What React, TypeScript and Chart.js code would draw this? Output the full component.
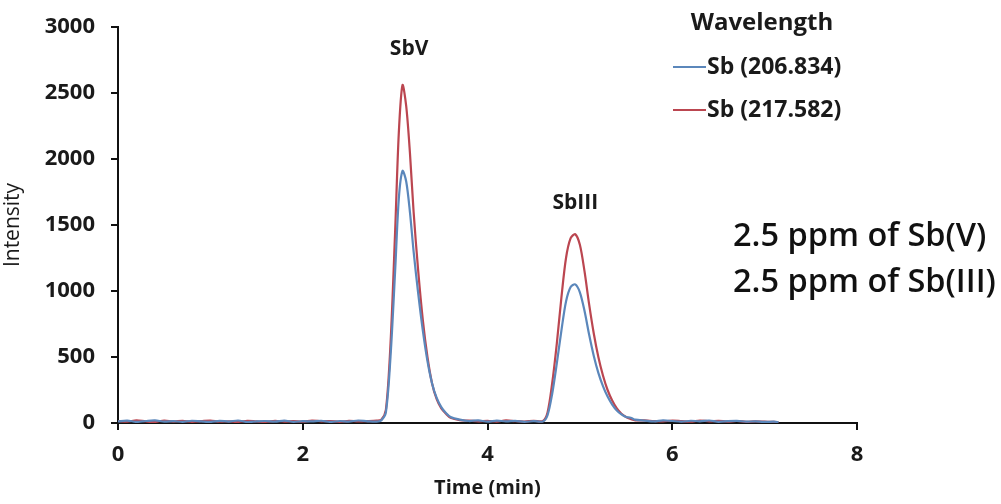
import React, { useEffect, useRef } from "react";
import { Chart, registerables } from "chart.js";

Chart.register(...registerables);

const times = [
  0, 0.1, 0.2, 0.3, 0.4, 0.5, 0.6, 0.7, 0.8, 0.9, 1.0, 1.1, 1.2, 1.3, 1.4, 1.5, 1.6, 1.7, 1.8, 1.9, 2.0, 2.1, 2.2, 2.3, 2.4, 2.5, 2.6, 2.7, 2.8,
  2.85, 2.9, 2.95, 3.0, 3.04, 3.08, 3.12, 3.16, 3.2, 3.25, 3.3, 3.35, 3.4, 3.45, 3.5, 3.55, 3.6,
  3.7, 3.8, 3.9, 4.0, 4.1, 4.2, 4.3, 4.4, 4.5,
  4.6, 4.65, 4.7, 4.75, 4.8, 4.85, 4.9, 4.95, 5.0, 5.05, 5.1, 5.15, 5.2, 5.25, 5.3, 5.35, 5.4, 5.45, 5.5, 5.55, 5.6,
  5.7, 5.8, 5.9, 6.0, 6.1, 6.2, 6.3, 6.4, 6.5, 6.6, 6.7, 6.8, 6.9, 7.0, 7.1, 7.15,
];

const sb206 = [
  12, 18, 8, 15, 20, 10, 14, 9, 17, 12, 8, 16, 11, 19, 7, 13, 15, 10, 18, 9, 14, 12, 17, 8, 15, 11, 19, 13, 10,
  20, 80, 500, 1150, 1700, 1910, 1830, 1600, 1300, 980, 700, 470, 300, 190, 120, 75, 45,
  25, 15, 20, 10, 18, 12, 16, 9, 14,
  12, 60, 220, 450, 700, 920, 1030, 1050, 990, 850, 670, 510, 380, 280, 200, 140, 95, 65, 45, 40, 25,
  18, 12, 20, 15, 10, 17, 13, 19, 9, 14, 16, 11, 12, 8, 10, 6,
];

const sb217 = [
  15, 10, 20, 12, 8, 18, 11, 16, 9, 14, 19, 10, 13, 8, 17, 12, 9, 16, 11, 14, 10, 18, 13, 15, 9, 16, 12, 14, 18,
  25, 100, 600, 1450, 2200, 2560, 2400, 2050, 1600, 1150, 780, 500, 300, 180, 110, 70, 40,
  22, 18, 12, 16, 10, 20, 14, 11, 17,
  15, 80, 300, 600, 950, 1250, 1400, 1430, 1350, 1150, 900, 680, 500, 360, 250, 170, 110, 70, 45, 30, 20,
  20, 15, 12, 18, 14, 10, 19, 13, 16, 11, 15, 9, 12, 10, 8, 5,
];

const seriesNames = ["Sb (206.834)", "Sb (217.582)"];
const legendTitle = "Wavelength";
const peakLabels = ["SbV", "SbIII"];
const peakLabelPos = [
  { x: 3.0, y: 2835 },
  { x: 4.95, y: 1670 },
];
const noteLines = ["2.5 ppm of Sb(V)", "2.5 ppm of Sb(III)"];

const BLUE = "#5b87bb";
const RED = "#bb4650";
const FONT = "'Open Sans', Lato, sans-serif";

const annotations = {
  id: "annotations",
  afterDraw(chart: any) {
    const { ctx, scales } = chart;
    const xs = scales.x;
    const ys = scales.y;
    ctx.save();
    ctx.fillStyle = "#1a1a1a";
    ctx.textBaseline = "middle";
    // peak labels
    ctx.textAlign = "center";
    ctx.font = `bold 21px ${FONT}`;
    peakLabels.forEach((t, i) => {
      ctx.fillText(t, xs.getPixelForValue(peakLabelPos[i].x) + 14 * (i === 0 ? 1 : 0), ys.getPixelForValue(peakLabelPos[i].y));
    });
    // legend
    ctx.font = `bold 24px ${FONT}`;
    ctx.fillText(legendTitle, 762, 23);
    ctx.textAlign = "left";
    ctx.font = `bold 23px ${FONT}`;
    const colors = [BLUE, RED];
    [67, 110].forEach((y, i) => {
      ctx.strokeStyle = colors[i];
      ctx.lineWidth = 2;
      ctx.beginPath();
      ctx.moveTo(673, y);
      ctx.lineTo(706, y);
      ctx.stroke();
      ctx.fillText(seriesNames[i], 707, y);
    });
    // notes
    ctx.font = `600 32.5px ${FONT}`;
    ctx.fillStyle = "#111";
    [237, 283].forEach((y, i) => ctx.fillText(noteLines[i], 733, y));
    ctx.restore();
  },
};

export default function App() {
  const ref = useRef<HTMLCanvasElement>(null);
  useEffect(() => {
    if (!ref.current) return;
    const chart = new Chart(ref.current, {
      type: "line",
      data: {
        datasets: [
          {
            label: seriesNames[0],
            data: times.map((t, i) => ({ x: t, y: sb206[i] })),
            borderColor: BLUE,
            borderWidth: 2.2,
            pointRadius: 0,
            tension: 0.3,
          },
          {
            label: seriesNames[1],
            data: times.map((t, i) => ({ x: t, y: sb217[i] })),
            borderColor: RED,
            borderWidth: 2.2,
            pointRadius: 0,
            tension: 0.3,
          },
        ],
      },
      options: {
        responsive: false,
        animation: false,
        layout: { padding: { left: 0, top: 23, right: 144, bottom: 0 } },
        plugins: { legend: { display: false }, tooltip: { enabled: false } },
        scales: {
          x: {
            type: "linear",
            min: 0,
            max: 8,
            ticks: { stepSize: 2, color: "#1a1a1a", font: { family: FONT, size: 22, weight: "bold", lineHeight: 1 }, padding: 14 },
            grid: { drawOnChartArea: false, tickLength: 7, color: "#111", lineWidth: 2 },
            border: { color: "#111", width: 2 },
            title: { display: true, text: "Time (min)", color: "#1a1a1a", font: { family: FONT, size: 20, weight: "bold" }, padding: { top: 10 } },
            afterFit(s: any) { s.height = 81; },
          },
          y: {
            min: 0,
            max: 3000,
            ticks: {
              stepSize: 500,
              color: "#1a1a1a",
              font: { family: FONT, size: 22, weight: "bold", lineHeight: 1 },
              padding: 16,
              callback: (v: any) => String(v),
            },
            grid: { drawOnChartArea: false, tickLength: 7, color: "#111", lineWidth: 2 },
            border: { color: "#111", width: 2 },
            title: { display: true, text: "Intensity", color: "#1a1a1a", font: { family: FONT, size: 21 }, padding: 0 },
            afterFit(s: any) { s.width = 118; },
          },
        },
      },
      plugins: [annotations],
    });
    return () => chart.destroy();
  }, []);
  return (
    <div style={{ position: "absolute", left: 0, top: 0, width: 1001, height: 504, background: "#fff" }}>
      <canvas ref={ref} width={1001} height={504} />
    </div>
  );
}
